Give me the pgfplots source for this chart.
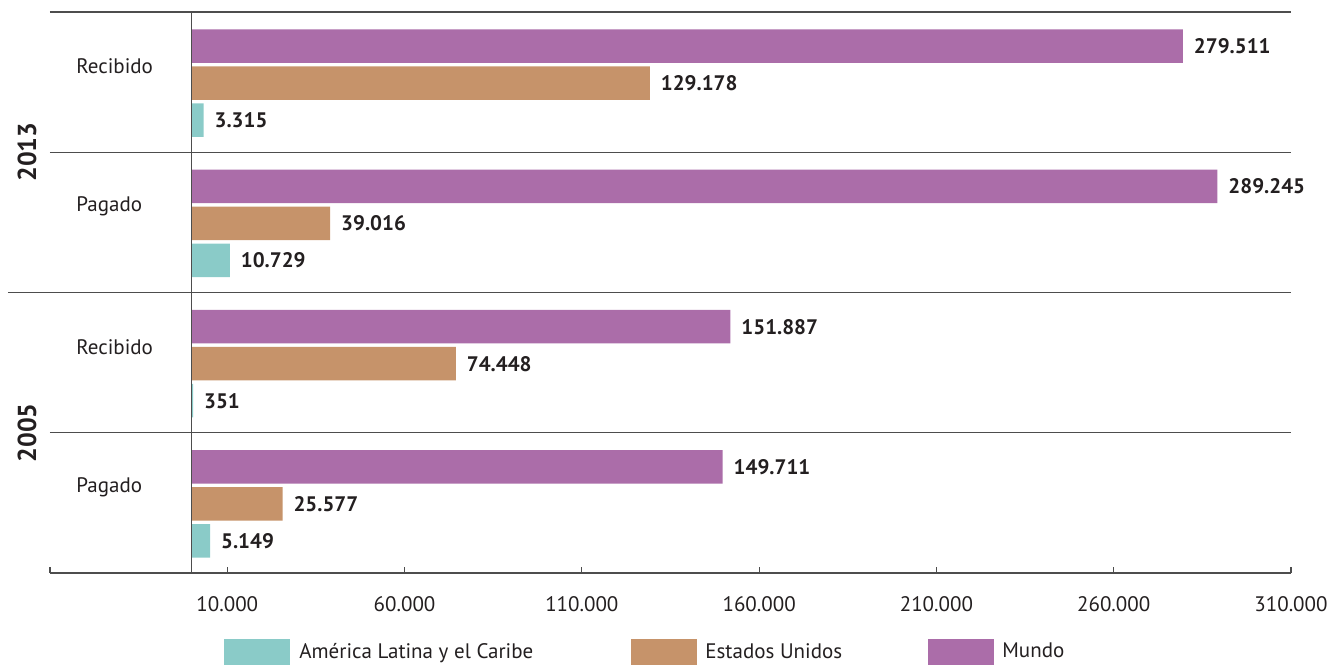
\documentclass[border=0pt]{standalone}
\usepackage{pgfplots}
\pgfplotsset{compat=1.18}
\usepackage{pgfplotstable}
\usepackage{fontspec}
\setmainfont{PT Sans}
\definecolor{alc}{HTML}{8ACBC8}
\definecolor{eu}{HTML}{C6936A}
\definecolor{mun}{HTML}{AB6DA9}
\definecolor{txt}{HTML}{231F20}
\definecolor{ln}{HTML}{4D4D4D}

% y positions in pixel-like units (group height 140.25)
\pgfplotstableread{
x y label
5149 32 5.149
351 172.25 351
10729 312.5 10.729
3315 452.75 3.315
}\alcdata
\pgfplotstableread{
x y label
25577 69 25.577
74448 209.25 74.448
39016 349.5 39.016
129178 489.75 129.178
}\eudata
\pgfplotstableread{
x y label
149711 106 149.711
151887 246.25 151.887
289245 386.5 289.245
279511 526.75 279.511
}\mundata

\begin{document}
\begin{tikzpicture}
\begin{axis}[
  scale only axis, width=620.5pt, height=280.5pt,
  xmin=-40000, xmax=310000, ymin=0, ymax=561,
  axis x line*=bottom, axis y line=none,
  axis line style={ln, line width=0.6pt},
  xtick={-40000,10000,60000,110000,160000,210000,260000,310000},
  xticklabels={,10.000,60.000,110.000,160.000,210.000,260.000,310.000},
  scaled x ticks=false,
  tick align=inside, major tick length=3pt,
  tick style={ln, line width=0.6pt},
  xticklabel style={font=\fontsize{10.5}{12}\selectfont, text=txt, yshift=-8pt},
  ytick=\empty,
  xbar, bar width=33.5, bar shift=0pt,
  nodes near coords, point meta=explicit symbolic,
  nodes near coords style={font=\bfseries\fontsize{10.5}{12}\selectfont, text=txt, anchor=west, xshift=2pt},
  clip=false,
  legend columns=3,
  legend style={at={(0.1402,-0.141)}, anchor=west, draw=none, fill=none, inner sep=0pt,
    font=\fontsize{10.5}{12}\selectfont, text=txt,
    nodes={inner sep=0pt}, /tikz/every even column/.append style={column sep=0pt}},
  legend image code/.code={\fill[#1] (0pt,-6.5pt) rectangle (33pt,6.5pt);},
]
\addplot[fill=alc, draw=none] table[x=x, y=y, meta=label] {\alcdata};
\addlegendentry{\hspace{4.5pt}\makebox[166pt][l]{América Latina y el Caribe}}
\addplot[fill=eu, draw=none] table[x=x, y=y, meta=label] {\eudata};
\addlegendentry{\hspace{4pt}\makebox[111.5pt][l]{Estados Unidos}}
\addplot[fill=mun, draw=none] table[x=x, y=y, meta=label] {\mundata};
\addlegendentry{\hspace{4pt}Mundo}

% frame lines
\draw[ln, line width=0.6pt] (axis cs:0,0) -- (axis cs:0,561);
\draw[ln, line width=0.6pt] (axis cs:-40000,561) -- (axis cs:310000,561);
\draw[ln, line width=0.6pt] (axis cs:-40000,420.75) -- (axis cs:310000,420.75);
\draw[ln, line width=0.6pt] (axis cs:-40000,140.25) -- (axis cs:310000,140.25);
\draw[ln, line width=0.6pt] ([xshift=-21pt]axis cs:-40000,280.5) -- (axis cs:310000,280.5);

% category labels
\node[anchor=west, text=txt, font=\fontsize{10.5}{12}\selectfont, inner sep=0pt] at ([xshift=13pt,yshift=-1pt]axis cs:-40000,508.75) {Recibido};
\node[anchor=west, text=txt, font=\fontsize{10.5}{12}\selectfont, inner sep=0pt] at ([xshift=13pt,yshift=-1pt]axis cs:-40000,368.5) {Pagado};
\node[anchor=west, text=txt, font=\fontsize{10.5}{12}\selectfont, inner sep=0pt] at ([xshift=13pt,yshift=-1pt]axis cs:-40000,228.25) {Recibido};
\node[anchor=west, text=txt, font=\fontsize{10.5}{12}\selectfont, inner sep=0pt] at ([xshift=13pt,yshift=-1pt]axis cs:-40000,88) {Pagado};
\node[rotate=90, text=txt, font=\bfseries\fontsize{13}{15}\selectfont, inner sep=0pt] at ([xshift=-11.5pt]axis cs:-40000,420.75) {2013};
\node[rotate=90, text=txt, font=\bfseries\fontsize{13}{15}\selectfont, inner sep=0pt] at ([xshift=-11.5pt]axis cs:-40000,140.25) {2005};

% bounding box to match reference proportions
\path (rel axis cs:0,0) ++(-25pt,-45.5pt) coordinate (bbA);
\path (rel axis cs:0,0) ++(645pt,286.5pt) coordinate (bbB);
\path (bbA) rectangle (bbB);
\end{axis}
\end{tikzpicture}
\end{document}
